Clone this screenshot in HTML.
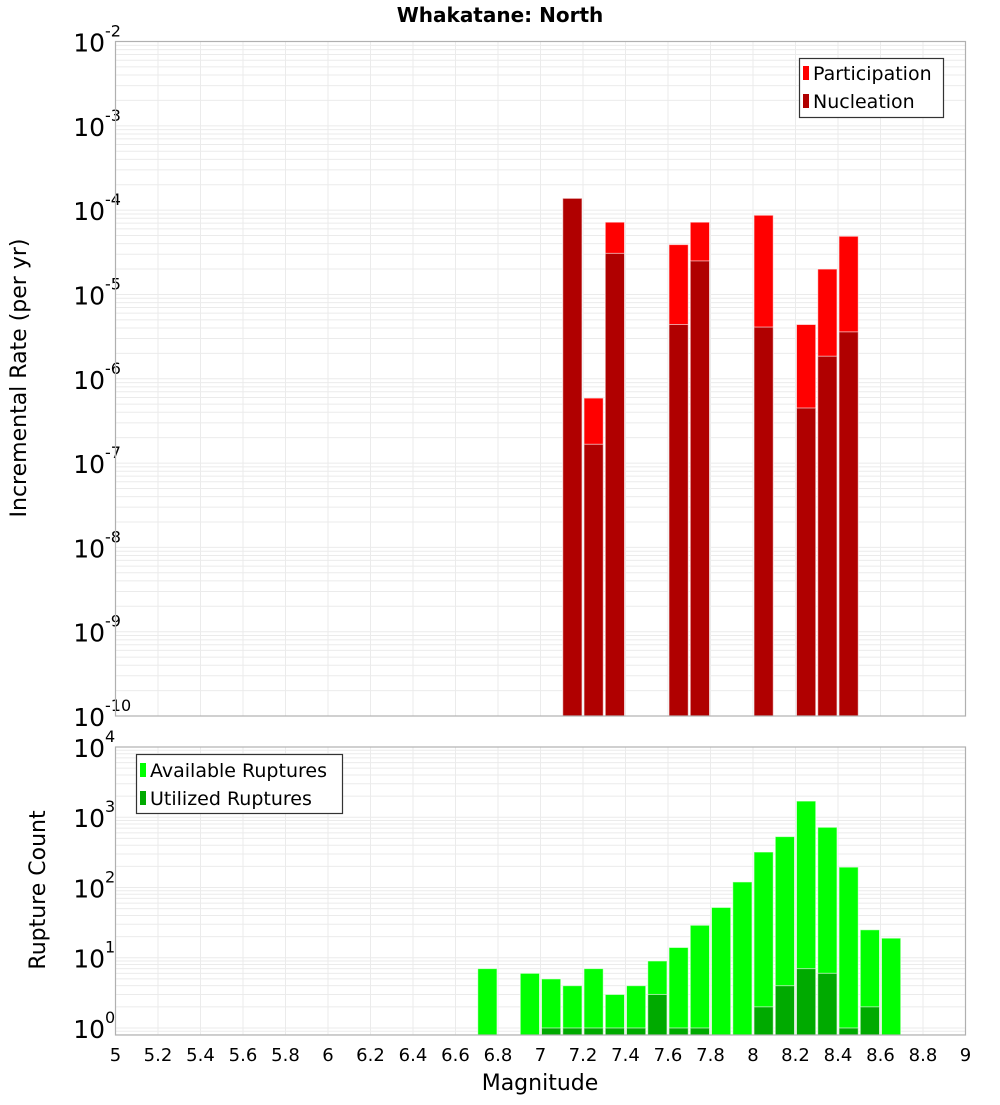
<!DOCTYPE html>
<html><head><meta charset="utf-8"><style>
body{margin:0;background:#fff;}
svg text{font-family:"DejaVu Sans","Liberation Sans",sans-serif;fill:#000;}
</style></head><body>
<svg id="c" width="1000" height="1100" xmlns="http://www.w3.org/2000/svg">
<text x="500" y="22" text-anchor="middle" font-size="20" font-weight="bold">Whakatane: North</text>
<g id="topPanel"></g>
<g id="botPanel"></g>
<text transform="translate(26,378) rotate(-90)" text-anchor="middle" font-size="22">Incremental Rate (per yr)</text>
<text transform="translate(45,890) rotate(-90)" text-anchor="middle" font-size="22">Rupture Count</text>
<text x="540" y="1090" text-anchor="middle" font-size="22">Magnitude</text>
<g>
<rect x="799.5" y="58.5" width="144" height="59" fill="#fff" stroke="#333" stroke-width="1.2"/>
<rect x="803" y="66" width="6" height="14" fill="#ff0000"/>
<text x="813" y="80" font-size="19">Participation</text>
<rect x="803" y="94" width="6" height="14" fill="#b00000"/>
<text x="813" y="108" font-size="19">Nucleation</text>
</g>
<g>
<rect x="136.5" y="754.5" width="206" height="59" fill="#fff" stroke="#333" stroke-width="1.2"/>
<rect x="140" y="763" width="6" height="14" fill="#00ff00"/>
<text x="150" y="777" font-size="19">Available Ruptures</text>
<rect x="140" y="791" width="6" height="14" fill="#00aa00"/>
<text x="150" y="805" font-size="19">Utilized Ruptures</text>
</g>
</svg>
<script>
const rateMags = [7.15, 7.25, 7.35, 7.65, 7.75, 8.05, 8.25, 8.35, 8.45];
const participation = [1.38e-4, 5.9e-7, 7.2e-5, 3.9e-5, 7.2e-5, 8.7e-5, 4.4e-6, 2.0e-5, 4.9e-5];
const nucleation = [1.38e-4, 1.67e-7, 3.07e-5, 4.4e-6, 2.5e-5, 4.1e-6, 4.5e-7, 1.85e-6, 3.6e-6];
const countMags = [6.75, 6.95, 7.05, 7.15, 7.25, 7.35, 7.45, 7.55, 7.65, 7.75, 7.85, 7.95, 8.05, 8.15, 8.25, 8.35, 8.45, 8.55, 8.65];
const available = [7, 6, 5, 4, 7, 3, 4, 9, 14, 29, 52, 120, 320, 530, 1700, 720, 195, 25, 19];
const utilized = [0, 0, 1, 1, 1, 1, 1, 3, 1, 1, 0, 0, 2, 4, 7, 6, 1, 2, 0];
const xTicks = ["5","5.2","5.4","5.6","5.8","6","6.2","6.4","6.6","6.8","7","7.2","7.4","7.6","7.8","8","8.2","8.4","8.6","8.8","9"];
const topExps = [-2,-3,-4,-5,-6,-7,-8,-9,-10];
const botExps = [4,3,2,1,0];

const NS="http://www.w3.org/2000/svg";
const X0=115.5,X1=965.5,MMIN=5,MMAX=9;
function xs(m){return X0+(m-MMIN)/(MMAX-MMIN)*(X1-X0);}
function mk(p,tag,a){const e=document.createElementNS(NS,tag);for(const k in a)e.setAttribute(k,a[k]);p.appendChild(e);return e;}
function panel(g,Y0,Y1,lmin,lmax,exps){
  const ys=v=>Y1-(Math.log10(v)-lmin)/(lmax-lmin)*(Y1-Y0);
  for(let d=Math.floor(lmin);d<lmax;d++)for(let k=1;k<10;k++){const v=k*Math.pow(10,d);const y=ys(v);if(y<Y0-0.1||y>Y1)continue;
    const l=mk(g,'line',{x1:X0,x2:X1,y1:y,y2:y,stroke:'#ebebeb','stroke-width':1});
    
    }
  xTicks.forEach(t=>{const x=xs(+t);const l=mk(g,'line',{x1:x,x2:x,y1:Y0,y2:Y1,stroke:'#ebebeb','stroke-width':1});
    
    });
  exps.forEach(e=>{const y=ys(Math.pow(10,e));const t=mk(g,'text',{x:105,y:y+10,'text-anchor':'end','font-size':25});t.textContent='10';
    
    
    const s=mk(g,'text',{x:105,y:y-5,'font-size':16});s.textContent=String(e);
    
    });
  return ys;
}
const topG=document.getElementById('topPanel'),botG=document.getElementById('botPanel');
const ysT=panel(topG,41.5,716,-10,-2,topExps);
const ysB=panel(botG,747,1035,-0.1,4.0,botExps);
const bw=(xs(5.1)-xs(5))-2;
function bar(g,m,v,Y1,ys,fill,name){if(v<=0)return;const x=xs(m)-bw/2;const y=Math.max(ys(v),0);
  const r=mk(g,'rect',{x:x,y:y,width:bw,height:Y1-y,fill:fill,stroke:'rgba(255,255,255,0.6)','stroke-width':1});
  
  }
rateMags.forEach((m,i)=>{bar(topG,m,participation[i],716,ysT,'#ff0000','participation-bar');bar(topG,m,nucleation[i],716,ysT,'#b00000','nucleation-bar');});
countMags.forEach((m,i)=>{bar(botG,m,available[i],1035,ysB,'#00ff00','available-bar');bar(botG,m,utilized[i],1035,ysB,'#00aa00','utilized-bar');});
mk(topG,'rect',{x:X0,y:41.5,width:X1-X0,height:716-41.5,fill:'none',stroke:'#b0b0b0','stroke-width':1.2});
mk(botG,'rect',{x:X0,y:747,width:X1-X0,height:1035-747,fill:'none',stroke:'#b0b0b0','stroke-width':1.2});
xTicks.forEach(t=>{const e=mk(botG,'text',{x:xs(+t),y:1061,'text-anchor':'middle','font-size':18});e.textContent=t;
  
  });
</script>
</body></html>
